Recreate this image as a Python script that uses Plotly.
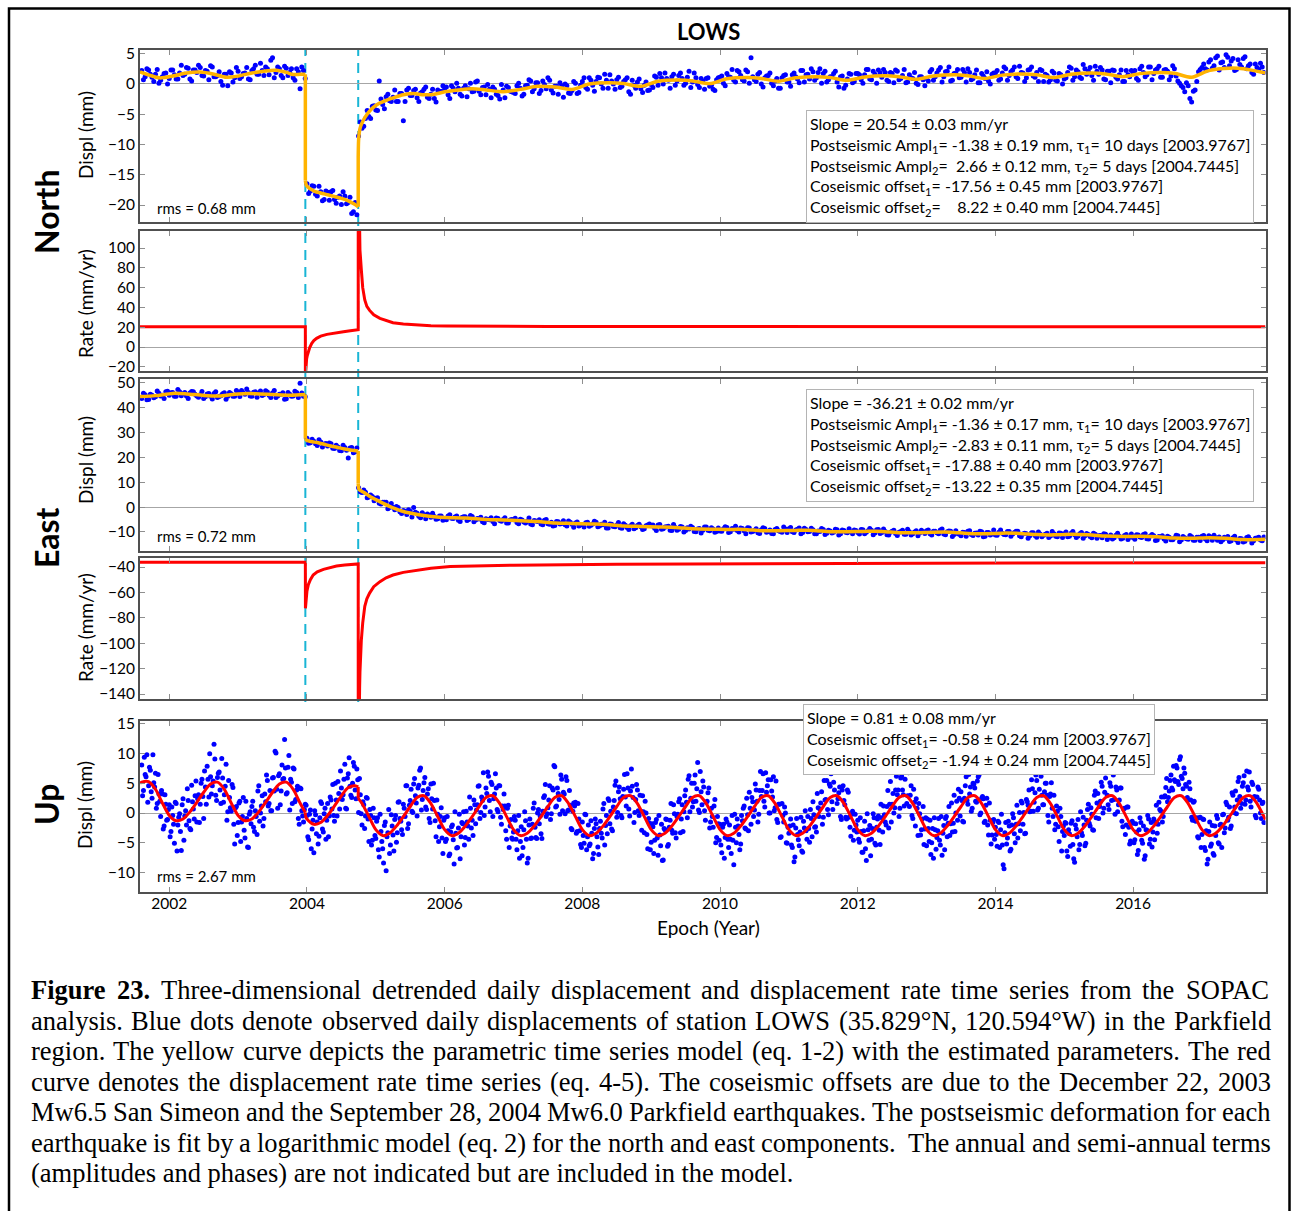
import numpy as np
import plotly.graph_objects as go

W, H = 1291, 1211

EPOCH_RANGE = [2001.575, 2017.923]
QUAKE_EPOCHS = [2003.9767, 2004.7445]
YEAR_TICKS = [2002, 2004, 2006, 2008, 2010, 2012, 2014, 2016]

# ---------------------------------------------------------------------------
# Observed positions (mm). North / east: two interleaved sets every 0.05 yr;
# up: two interleaved sets every 0.025 yr.
# ---------------------------------------------------------------------------
NE_STEP = 0.05
UP_STEP = 0.025
SEG_STARTS = [2001.600, 2004.000, 2004.750]    # before 1st quake, between, after 2nd
SEG_STARTS_2 = [2001.625, 2004.025, 2004.775]
UP_START = 2001.600
UP_START_2 = 2001.6125

north_obs_pre = [
    2.2, 1.2, 2.3, 1.1, 1.6, 0.1, 1.2, 1.8, 0.9, 2.3,
    0.8, 1.8, 1.4, 2.7, 0.8, 2.3, 1.9, 2.7, 1.3, 2.1,
    3.0, 1.2, 1.4, 0.4, 1.6, -0.3, 1.8, 1.0, 2.1, 1.2,
    1.8, 0.8, 2.2, 3.1, 1.6, 2.2, 2.8, 1.5, 4.3, 1.9,
    2.5, 1.0, 2.6, 1.9, 1.0, 2.5, -0.8, 2.2]
north_obs_mid = [-16.5, -17.7, -16.9, -18.5, -17.8, -19.1, -17.9, -17.8, -19.1, -18.7,
                 -19.9, -18.5, -19.6, -21.4, -19.6]
north_obs_post = [
    -8.6, -7.3, -5.7, -5.4, -3.7,
    -4.3, 0.5, -3.4, -2.1, -2.8, -2.2, -2.9, -1.6, -6.1, -1.0, -1.9, -1.1, -2.3, -1.5, -0.9, -2.2, -1.7, -2.4, -1.0, -1.2,
    -0.8, -1.8, -0.3, -1.3, -0.7, -2.0, -0.3, -0.8, -1.3, 0.3, -1.2, -0.6, -1.8, -0.9, -0.5, -1.7, -2.5, -1.0, -0.4, -1.2,
    -1.4, -0.3, -0.7, -1.7, -0.2, 0.5, -0.8, 0.2, -1.1, -0.1, 1.0, -1.0, -0.4, -1.7, -0.3, 0.0, -1.5, -1.1, 0.1, -1.4,
    0.4, -0.6, 1.0, -0.2, 0.4, 1.0, -0.7, 0.6, 1.5, 0.0, 0.7, -0.6, 0.4, 1.0, -1.7, -0.2, 0.3, -0.8, -0.2, -1.1,
    -0.1, 1.3, -0.2, 1.0, 1.8, 0.6, 1.2, -0.2, 1.4, 0.9, 0.1, 2.1, 0.3, 1.0, -0.6, 0.5, 0.9, -0.4, -0.9, 0.7,
    1.1, 0.1, 1.7, 1.1, 0.6, 2.2, 1.4, 0.5, 2.0, 4.3, 0.7, 1.6, 0.0, 1.0, 1.4, 0.1, 0.5, -0.7, 1.0, 1.5,
    0.3, 1.5, 1.2, 0.2, 2.2, 1.5, 0.8, 2.0, 1.0, 2.5, 1.7, 0.3, 1.2, 1.7, 0.3, 1.2, -0.7, 0.8, 1.6, 0.4,
    1.7, 0.7, 1.5, 2.4, 0.7, 1.6, 2.3, 1.1, 1.9, 0.4, 1.7, 2.3, 0.7, 1.4, 0.2, 1.5, 0.9, 0.1, 1.2, 0.7,
    0.9, 2.0, 0.6, 1.8, 2.7, 1.2, 2.1, 0.5, 1.7, 2.4, 1.1, 1.9, 2.5, 0.7, 1.5, 0.2, 1.7, 0.9, 0.5, 1.6,
    1.8, 0.6, 1.8, 2.5, 1.4, 2.3, 1.2, 2.9, 1.8, 1.0, 2.4, 1.3, 1.9, 2.4, 0.4, 1.4, 0.7, 1.8, 0.5, 1.5,
    0.8, 1.9, 2.6, 1.2, 2.0, 0.9, 2.5, 2.1, 1.4, 2.9, 1.6, 2.3, 0.7, 2.1, 2.3, 1.1, 1.5, 0.4, 2.2, 1.2,
    1.8, 0.9, 2.5, 1.9, 1.5, 2.8, 1.7, 2.5, 1.1, 2.3, 2.1, 1.3, 2.5, 0.5, -0.3, -1.3, -0.3, -3.0, -1.0, 2.0,
    2.7, 2.5, 3.6, 2.6, 4.3, 2.3, 3.6, 4.8, 3.0, 4.2, 2.4, 3.2, 4.2, 2.5, 3.3, 1.6, 2.7, 3.4, 1.9]
north_obs2_pre = [
    0.7, 2.5, 1.6, 0.4, 2.4, 0.6, 1.7, 0.0, 2.3, 1.5,
    0.8, 3.1, 1.6, 2.6, 0.5, 2.3, 3.1, 1.4, 2.2, 0.7,
    2.8, 1.2, 2.0, -0.2, 1.6, 2.0, 0.3, 2.7, 0.9, 1.7,
    2.7, 0.7, 2.5, 1.6, 3.4, 1.4, 2.5, 3.9, 1.0, 2.8,
    1.4, 2.9, 1.4, 2.5, 0.6, 2.0, 2.8, 0.9]
north_obs2_mid = [-18.1, -16.8, -18.2, -16.9, -19.3, -17.7, -19.2, -17.6, -19.7, -18.5,
                  -17.8, -19.8, -18.7, -21.1, -21.6]
north_obs2_post = [
    -6.3, -7.0, -4.4, -5.7, -3.6,
    -4.4, -2.5, -4.1, -1.7, -2.9, -1.0, -2.9, -1.6, -2.9, -0.7, -1.9, -0.9, -2.9, -1.3, -0.5, -2.4, -0.9, -3.0, -1.3, -0.3,
    -0.5, -2.4, -0.7, 0.1, -1.7, -0.7, -2.1, 0.1, -1.2, 0.5, -1.8, -0.5, -0.1, -2.3, -0.9, -1.9, -0.1, -2.3, -0.6, -1.3,
    -1.6, 0.1, -2.0, -0.3, 0.7, -1.3, 0.2, -1.6, 0.5, -0.8, 0.6, -1.5, -0.4, 0.2, -2.2, -0.3, -1.6, 0.4, -1.6, -0.2,
    1.0, -0.9, 0.6, -1.2, 1.1, 0.0, 1.6, -0.7, 0.5, -0.9, 1.1, -0.4, 0.7, -1.3, 0.6, -0.7, 0.8, -1.4, 0.3, -1.0,
    -0.6, 1.1, 1.7, 0.0, 0.9, -0.7, 1.6, 0.5, 1.8, -0.2, 1.1, -0.6, 1.8, -0.1, 0.9, -0.9, 1.0, -0.2, -1.1, 1.0,
    1.3, -0.3, 1.2, 2.4, 0.3, 2.0, 0.7, 2.3, 0.1, 1.2, 0.4, 1.9, -0.5, 1.3, 1.8, -0.3, 0.9, -0.7, 1.4, 0.3,
    -0.4, 1.8, 0.8, 2.2, 0.3, 1.6, 2.5, 0.6, 1.9, 0.1, 2.1, 0.7, 1.2, 2.1, -0.5, 1.3, -0.2, 1.7, 0.2, 1.7,
    1.5, 0.1, 2.4, 0.8, 2.1, 0.1, 1.8, 2.4, 0.6, 1.9, 0.2, 2.1, 0.9, 2.4, 0.3, 1.0, 1.9, -0.1, 1.2, -0.3,
    0.5, 2.4, 1.2, 2.3, 0.3, 2.0, 2.8, 0.6, 1.8, 1.0, 2.4, 0.3, 1.9, 0.9, 2.3, 0.2, 1.3, 2.0, 0.0, 1.8,
    2.2, 0.8, 2.8, 0.6, 2.0, 2.8, 0.9, 1.9, 0.4, 2.3, 2.8, 1.1, 0.4, 2.2, 1.6, 0.3, 2.1, 0.6, 1.7, 0.0,
    1.0, 2.8, 0.6, 2.3, 1.1, 3.2, 1.6, 2.7, 0.6, 2.1, 2.7, 0.8, 2.1, 0.2, 2.2, 0.8, 2.3, 0.4, 1.5, 2.2,
    2.2, 0.6, 2.9, 1.2, 2.8, 0.7, 2.3, 2.9, 1.1, 2.4, 0.7, 3.0, 1.3, 0.1, -0.6, 0.2, -2.4, -1.2, 0.4, 2.4,
    3.3, 2.3, 4.0, 3.0, 4.6, 3.5, 2.7, 4.4, 3.8, 2.2, 4.0, 2.8, 4.5, 3.0, 1.9, 3.3, 2.4, 2.8]

east_obs_pre = [
    43.7, 45.3, 43.3, 45.1, 44.4, 45.9, 45.1, 46.5, 45.1, 46.2,
    44.7, 46.5, 45.7, 44.8, 46.0, 46.5, 44.8, 45.3, 43.7, 45.6,
    44.6, 45.8, 44.1, 44.9, 46.1, 44.6, 45.7, 44.6, 46.3, 47.0,
    45.5, 46.2, 44.7, 46.5, 46.0, 45.0, 46.9, 45.1, 46.0, 44.1,
    45.5, 46.1, 43.6, 45.5, 44.8, 46.2, 49.9, 44.7]
east_obs_mid = [27.7, 25.9, 26.5, 24.8, 26.2, 25.4, 24.6, 25.5, 23.6, 24.2,
                22.7, 24.0, 19.8, 24.0, 22.3]
east_obs_post = [
    7.8, 5.9, 6.0, 4.1, 4.3,
    3.6, 1.5, 1.9, 1.9, -0.2, -0.1, 0.2, -1.9, -1.4, -3.0, -1.7, -0.2, -2.5, -4.3, -3.1, -2.8, -4.1, -3.8, -4.7, -3.6,
    -4.7, -3.6, -4.5, -4.0, -5.3, -4.2, -3.9, -5.0, -3.8, -5.2, -4.8, -5.9, -4.7, -5.1, -5.8, -4.4, -5.4, -5.0, -6.4, -5.2,
    -5.1, -6.2, -4.9, -6.0, -5.7, -6.8, -5.4, -5.8, -6.8, -5.3, -6.7, -6.1, -7.4, -5.9, -6.6, -7.1, -5.6, -6.9, -6.4, -7.6,
    -7.1, -6.3, -7.7, -6.8, -6.1, -7.6, -7.1, -8.4, -6.8, -7.8, -7.2, -8.3, -6.7, -8.2, -7.5, -8.7, -7.4, -7.9, -8.7, -7.2,
    -7.5, -8.5, -7.2, -8.9, -8.0, -7.7, -9.4, -8.2, -8.9, -8.0, -9.4, -8.8, -8.2, -9.9, -8.6, -9.3, -8.0, -9.5, -8.8, -9.8,
    -9.6, -8.7, -8.2, -9.9, -8.9, -9.4, -8.4, -9.5, -8.3, -10.0, -9.3, -10.3, -9.1, -8.6, -9.8, -10.6, -9.0, -9.5, -10.1, -8.8,
    -8.7, -9.9, -9.2, -8.4, -10.2, -9.0, -9.8, -9.1, -10.8, -9.8, -9.0, -10.5, -9.6, -10.1, -9.1, -10.8, -9.4, -10.3, -9.9, -9.2,
    -10.2, -9.0, -10.7, -9.5, -9.3, -10.4, -9.0, -10.2, -9.8, -11.3, -9.7, -10.6, -10.1, -9.3, -11.0, -9.9, -10.8, -9.5, -10.4, -9.9,
    -9.5, -10.8, -9.7, -10.3, -9.2, -10.9, -9.9, -9.7, -11.1, -10.6, -11.6, -10.2, -9.7, -11.1, -10.5, -11.3, -9.9, -11.8, -10.2, -10.9,
    -11.3, -10.1, -10.5, -11.2, -9.8, -10.9, -9.7, -11.6, -10.9, -10.7, -11.6, -10.3, -12.2, -10.9, -11.4, -10.5, -11.7, -10.8, -12.0, -10.5,
    -10.7, -12.0, -10.5, -11.2, -11.7, -10.2, -11.6, -11.1, -12.4, -11.0, -11.6, -12.4, -11.0, -12.1, -12.9, -11.4, -11.8, -12.6, -11.1, -12.2,
    -12.3, -11.2, -12.1, -11.1, -12.8, -11.7, -11.6, -13.3, -12.1, -12.9, -11.8, -13.2, -12.5, -11.6, -13.3, -12.4, -13.0, -12.0, -13.4, -12.2,
    -11.8, -12.9, -11.6, -13.4, -12.4, -12.1, -13.3, -12.6, -13.9, -12.4, -13.3, -12.7, -14.1, -12.3, -13.0, -13.6, -12.5, -13.3, -12.1]
east_obs2_pre = [
    45.9, 43.2, 45.5, 44.0, 46.8, 44.8, 43.7, 46.7, 46.1, 44.6,
    47.4, 44.9, 46.2, 43.7, 46.6, 45.5, 44.2, 46.6, 44.4, 45.8,
    43.5, 46.5, 44.5, 45.7, 43.4, 46.2, 44.7, 47.0, 44.5, 46.1,
    47.6, 44.8, 46.3, 44.2, 46.8, 45.4, 46.4, 44.1, 47.0, 44.8,
    45.5, 43.4, 46.2, 44.7, 46.7, 44.1, 46.0, 44.4]
east_obs2_mid = [25.7, 27.3, 25.5, 27.1, 24.2, 25.6, 25.8, 23.7, 24.9, 22.8,
                 24.9, 22.9, 23.8, 21.9, 23.8]
east_obs2_post = [
    6.2, 6.9, 3.8, 4.9, 2.5,
    3.8, 1.2, 1.9, -0.7, 1.4, -1.1, -0.2, -2.6, -1.7, -1.1, -4.0, -2.1, -3.7, -2.3, -4.7, -3.3, -2.5, -4.9, -3.6, -5.3,
    -5.1, -3.1, -4.6, -3.6, -5.8, -3.9, -5.4, -3.4, -5.9, -4.6, -4.1, -6.3, -5.0, -4.3, -6.7, -4.6, -5.7, -4.3, -6.4, -5.0,
    -4.5, -6.7, -5.2, -6.4, -4.4, -7.1, -5.6, -5.1, -7.1, -5.0, -6.9, -7.6, -5.8, -6.8, -5.5, -7.6, -6.1, -8.1, -6.0, -7.0,
    -8.0, -6.1, -7.3, -5.7, -7.9, -6.9, -6.1, -8.4, -6.9, -7.9, -6.2, -8.5, -7.3, -9.0, -6.9, -8.3, -6.9, -9.0, -7.5, -6.8,
    -7.2, -9.4, -7.0, -8.7, -7.9, -9.3, -7.0, -9.3, -7.8, -10.0, -8.3, -7.7, -9.8, -8.8, -10.4, -8.0, -9.3, -8.3, -10.1, -8.4,
    -9.7, -7.9, -10.2, -8.6, -7.7, -10.0, -8.6, -10.7, -8.4, -9.8, -8.7, -10.6, -8.3, -10.1, -9.2, -10.8, -8.6, -9.8, -8.0, -10.2,
    -8.2, -10.2, -8.9, -10.7, -8.5, -9.9, -8.5, -10.7, -9.6, -8.6, -11.1, -9.3, -10.4, -8.9, -11.3, -9.2, -10.1, -8.7, -10.7, -9.4,
    -10.9, -9.1, -10.1, -8.6, -11.2, -9.1, -10.6, -8.8, -11.2, -10.1, -9.3, -11.5, -9.8, -11.0, -8.9, -11.3, -10.0, -11.6, -9.3, -10.6,
    -9.2, -11.3, -9.7, -10.7, -8.8, -11.2, -9.6, -11.9, -9.5, -11.0, -10.1, -11.8, -9.5, -11.5, -10.4, -9.7, -12.0, -10.2, -11.3, -9.2,
    -11.4, -9.2, -11.1, -9.8, -11.8, -10.2, -9.7, -12.0, -10.5, -12.6, -10.3, -11.5, -10.0, -12.0, -11.0, -12.3, -9.8, -11.8, -10.4, -12.3,
    -10.0, -11.8, -9.8, -12.3, -10.7, -12.6, -10.6, -11.9, -10.5, -12.6, -11.5, -10.7, -13.1, -11.3, -12.4, -10.5, -12.9, -11.5, -13.1, -10.9,
    -13.0, -11.3, -12.3, -10.7, -12.9, -11.1, -13.5, -11.9, -11.6, -13.7, -12.2, -13.2, -11.4, -14.0, -11.9, -12.8, -11.5, -13.4, -12.2, -13.5,
    -11.5, -13.6, -12.1, -11.4, -13.4, -14.0, -12.2, -11.9, -13.6, -11.8, -14.3, -12.8, -13.8, -12.0, -14.5, -12.6, -12.2, -13.6]

up_obs = [
    8.1, 3.8, 6.5, 9.8, 4.6, 7.2, 2.5, 5.1, 6.7, 1.6, 3.2, -0.6, 3.2, -2.2, 1.5, -1.1,
    1.4, -3.1, -0.4, -5.1, 1.6, -2.0, -0.1, -6.3, 2.4, -0.5, -2.0, 2.1, -2.6, 4.7, 0.7, 2.9, -1.5, 3.1, 1.5, 5.7,
    -0.9, 4.4, 7.9, 2.7, 6.1, 4.6, 11.6, 3.0, 6.0, 6.9, 1.6, 5.9, 3.1, 8.2, 0.2, 2.6, 0.3, 4.3, -5.2, 1.1,
    -1.6, 2.0, -1.5, 2.6, -4.2, -0.9, -5.8, 0.2, 1.1, -2.4, 0.4, -3.6, 4.6, 0.0, 2.9, -0.9, 1.9, 5.5, 1.6, 0.4,
    5.9, 3.7, 10.1, 0.8, 6.6, 3.7, 5.7, 12.4, 3.2, 7.7, 0.5, 5.2, 7.6, 1.9, 3.9, -0.9, 4.2, 0.4, -1.5, 1.5,
    -0.4, -4.5, 0.5, -2.7, -6.7, -0.3, -1.5, -3.9, 1.9, -2.7, -0.1, -4.4, 1.6, -0.5, 2.2, 4.8, -1.4, 2.2, 5.3, 0.7,
    4.2, 3.1, 8.2, 0.7, 6.6, 4.5, 2.6, 8.5, 3.9, 7.4, 0.1, 3.1, -2.0, 1.4, -0.5, 2.5, -4.8, -0.4, -4.6, -0.8,
    -4.3, -0.8, -7.4, -3.1, -6.0, -2.1, -9.7, -3.3, -6.8, -0.3, -3.7, -1.1, -4.9, 1.8, -0.9, -2.8, 1.5, -0.6, 4.6, -1.8,
    2.1, 0.3, 4.9, 2.9, -0.5, 4.7, 7.6, 2.3, 5.1, 1.0, 3.2, -0.9, 4.9, 0.7, 2.1, -4.0, -0.2, -2.3, 0.9, -6.8,
    -0.8, -4.4, -3.0, -6.9, -2.3, -4.5, 0.2, -5.9, -2.5, -7.7, -1.6, 0.2, -4.1, -1.5, -4.4, 0.8, -1.2, 2.2, -1.8, 1.4,
    4.6, 0.1, 2.1, -0.4, 4.2, 6.9, 2.1, 5.2, -0.6, 3.2, 4.2, 0.2, 4.6, -1.9, 0.6, 1.2, -4.4, 1.3, -2.2, -4.2,
    -3.2, -1.2, -6.2, -0.4, -4.8, -7.2, -2.8, -1.3, -8.4, -2.0, -4.3, -1.9, 1.7, -4.1, 0.0, -1.8, -3.5, 0.3, 2.9, -0.6,
    0.9, 4.6, -0.1, 3.9, 7.8, 1.2, 3.3, -0.2, 5.7, 3.5, -0.1, 5.5, 0.5, 1.3, -2.8, 1.7, 1.8, -3.1, -1.0, -5.3,
    -1.5, -5.1, -0.3, -4.0, -5.5, -1.3, -7.7, -2.6, -1.8, -5.7, -2.6, -3.4, 0.7, -5.4, -0.4, 2.4, -1.8, -2.7, 1.0, 4.7,
    -0.7, 3.6, 2.4, -0.8, 4.0, 2.7, 6.6, 0.7, 3.7, 4.5, -1.6, 2.3, 3.9, -0.4, 0.3, 2.9, -3.3, 0.0, -6.0, -1.7,
    -4.9, -2.3, -4.6, -1.1, -7.1, -3.7, -1.9, -7.9, -2.8, -1.1, -5.3, -1.2, -2.9, 1.4, -3.3, -0.6, 1.9, -3.3, 1.4, 0.2,
    3.9, -0.8, 6.3, 2.5, 1.0, 5.0, 2.0, 8.5, 0.1, 3.6, 5.4, 0.4, 1.8, 3.4, -2.5, 0.8, -2.4, 2.3, -4.1, -1.8,
    -1.9, -6.7, -1.9, -4.1, -1.5, -5.8, -4.4, -0.4, -8.7, -2.4, -1.0, -3.6, -5.2, -1.3, 1.2, -2.7, -0.3, 3.5, -1.9, 1.9,
    0.5, 3.9, -1.5, 3.8, 2.8, 6.6, 1.0, 3.5, 5.6, 0.0, 3.7, 6.1, 0.9, -1.1, 1.5, -4.1, 1.6, -1.5, 0.0, -5.1,
    -3.4, -1.0, -5.8, -8.2, -2.5, -3.6, -5.5, -0.7, -6.6, -2.5, -3.0, -0.6, -4.9, -0.9, 1.9, -2.4, -3.2, 0.9, 0.7, 3.6,
    -0.7, 2.2, 5.5, -0.3, 4.5, 1.9, 5.2, 7.4, 1.6, 3.4, -0.6, 3.9, 2.1, -0.7, 3.9, -0.7, -3.9, 0.3, -2.9, -2.0,
    -1.2, -4.9, -3.1, -6.6, -1.4, -8.0, -2.8, -2.1, -4.4, -0.1, -5.1, -2.4, -0.5, -5.3, -0.8, 1.2, -1.5, 1.1, -2.5, 5.3,
    1.5, 0.0, 3.9, 3.1, -0.6, 5.9, 3.9, 1.2, 7.9, 2.9, 1.1, 4.6, -0.9, 1.8, 2.4, -3.8, -0.1, -2.8, 1.1, -2.7,
    -5.5, -2.6, -1.2, -5.0, -7.6, -2.8, -4.1, -0.9, -5.4, -7.1, -2.1, -0.9, -4.0, 1.1, -1.8, -3.2, 3.0, 0.0, -1.2, 2.5,
    3.6, -1.4, 2.5, 6.1, 1.5, 3.2, 0.3, 5.0, 4.2, 1.8, 6.1, -0.3, 2.5, 2.4, -1.4, 2.5, -3.7, -1.2, -3.7, -1.1,
    -2.4, -5.6, -1.6, -2.8, -5.4, -9.4, -1.6, -4.2, -2.2, -6.1, -0.1, -3.5, -1.9, -4.2, 0.1, 2.0, -1.9, -3.5, 2.3, 1.3,
    0.2, 5.6, 0.3, 3.4, 5.5, 0.8, 7.7, 3.0, 1.4, 5.0, 3.0, -1.5, 3.2, 0.8, 3.0, -1.9, 0.3, -4.8, -0.6, -3.1,
    -3.8, -1.7, -7.3, -3.5, -1.7, -5.3, -8.3, -2.7, -1.1, -5.3, -3.3, -0.7, -5.5, -1.2, 1.5, -2.2, -0.2, -2.9, 3.7, 1.7,
    -0.9, 2.0, 4.5, 0.8, 5.9, 3.0, 0.6, 4.5, 6.9, 2.3, 4.4, 0.2, 2.2, 4.2, -2.3, 0.8, -2.0, 1.0, -5.2, -1.6,
    -1.7, -4.5, -3.2, -6.3, -0.8, -4.6, -2.2, -7.2, -2.9, -1.0, -4.4, -5.7, -1.0, -1.5, -3.4, 1.8, 0.4, -1.5, 2.7, 4.3,
    1.9, 3.7, 6.4, 3.9, 5.6, 8.0, 5.3, 9.0, 6.2, 4.1, 6.7, 4.5, 2.2, 4.1, -0.7, 1.8, -1.3, -0.8, -4.2, -0.7,
    -3.6, -1.1, -6.3, -8.6, -3.1, -5.6, -2.1, -7.1, -3.8, -0.9, -5.2, -1.9, -0.3, -3.3, 1.8, -1.2, 1.0, -2.2, 3.0, 1.0,
    -0.1, 5.3, 2.8, 1.6, 5.1, 1.5, 7.1, 3.9, 2.0, 5.2, 2.5, -0.4, 2.7, 4.0, 0.0, 1.6, -1.6]
up_obs2 = [
    2.9, 9.4, 6.1, 1.8, 7.7, 3.6, 9.8, 4.4, 0.8, 6.5, 2.0, 3.8, -2.7, 3.1, -1.2, 0.6,
    -4.0, 1.0, -1.9, 1.8, -6.4, -0.7, -3.1, 1.4, -4.6, 0.4, 4.1, -1.3, -2.8, 1.9, -1.0, 5.4, 2.4, -1.6, 5.0, 2.8,
    7.1, 1.5, 5.7, 10.0, 3.2, 5.4, 9.1, 2.1, 6.7, 3.9, 9.2, 1.8, 4.5, -1.2, 5.5, 0.9, 4.8, -1.9, 0.9, -3.8,
    1.7, -4.8, -0.6, -2.9, 2.0, -5.7, -0.2, -1.8, 2.0, -3.1, -0.6, 3.7, -1.4, 1.2, -2.2, 3.2, 6.4, 1.2, 3.8, 0.4,
    6.0, 10.4, 4.0, 6.3, 1.4, 8.1, 5.8, 7.6, 3.4, 9.7, 5.7, 1.6, 7.4, 2.3, 4.5, -1.9, 4.1, -0.5, 0.6, 1.3,
    -4.0, -0.2, -6.0, -1.2, 0.4, -3.5, -5.2, -0.8, 1.6, -3.2, 0.8, -1.2, -4.0, 2.7, 0.7, -0.4, 5.0, -0.5, 3.3, 7.1,
    2.3, 5.7, 0.8, 5.9, 9.3, 3.0, 5.0, 7.9, 2.4, 5.6, 5.8, -0.1, 1.9, -2.6, 2.6, -1.0, 0.6, -5.4, 0.8, -3.8,
    -1.4, -6.2, -0.2, -4.8, -8.4, -1.5, -4.0, 0.6, -5.4, -2.2, -6.4, -0.4, -3.3, 1.9, -1.4, -3.6, 0.8, 4.6, -2.6, 1.3,
    4.0, 0.1, 5.8, 1.7, 4.2, 7.2, 0.5, 3.8, 6.0, 0.6, 4.1, -1.6, 2.4, 5.0, -1.3, 2.2, -4.8, -0.6, -4.2, -1.2,
    -4.8, -0.6, -7.2, -3.2, -2.0, -8.6, -3.4, -5.8, -0.2, -4.0, -1.8, -5.4, 0.3, -2.2, 2.7, -2.5, -3.8, 1.4, 0.5, 4.5,
    -0.9, 2.7, 6.8, 1.0, 3.3, 6.2, 0.2, 4.8, 2.4, 6.6, 0.6, 4.6, -0.7, 1.2, 3.2, -3.0, 0.8, -5.8, -1.1, -4.4,
    -0.6, -4.4, -3.0, -7.6, -2.3, -5.8, 0.2, -4.4, -7.6, -1.0, -4.2, 0.8, -2.4, -4.3, 0.6, -0.5, -4.3, 2.6, 4.8, -0.1,
    2.2, -1.1, 4.2, 8.0, 1.0, 4.2, 2.3, 6.4, 0.4, 3.2, 6.1, 0.4, 3.8, -2.6, 0.3, 1.2, -3.4, 1.6, -3.0, -5.8,
    -3.8, -0.2, -6.2, -2.0, -5.2, -3.4, -6.8, -1.0, -4.0, -7.0, -1.4, -4.2, 1.6, -2.1, -3.5, 2.1, 0.3, -3.0, 2.1, 5.4,
    0.1, 4.4, -0.4, 2.8, 6.5, 1.2, 4.2, -0.5, 7.4, 2.6, 0.1, 4.8, 0.4, 3.0, -2.9, 0.2, 2.0, -3.6, -0.9, -6.2,
    -1.8, -6.8, -1.6, -4.2, -0.4, -5.5, -8.0, -2.6, -1.0, -5.6, -2.4, 1.6, -3.4, -0.1, -4.2, -0.2, 2.4, -1.0, -3.1, 2.9,
    1.8, 5.7, 0.2, 5.0, 1.9, 6.4, 4.1, 0.5, 7.0, 1.4, 4.4, -1.2, 2.0, 4.2, -1.5, -0.6, 1.2, -5.0, -0.6, -4.6,
    -5.4, -2.4, -7.6, -1.0, -4.4, -2.0, -6.8, -4.6, -0.2, -5.0, -2.2, -6.2, -0.4, 0.8, -2.5, 2.5, -3.0, 0.8, 2.6, -0.6,
    4.9, 2.0, -0.2, 7.0, 3.8, 2.0, 6.8, 4.6, 0.0, 5.6, 2.7, 0.4, 5.4, -1.6, 1.5, -4.0, -0.4, 1.0, -5.0, -2.4,
    -2.2, -5.4, -2.0, -7.4, -0.9, -4.5, -3.2, -6.4, -1.4, 0.4, -4.4, -2.6, 0.6, -4.0, -0.3, -2.3, 3.3, -0.6, 1.7, -1.9,
    5.5, 2.3, 0.6, 4.9, 6.6, 0.6, 3.9, 7.4, 2.4, 4.4, -1.1, 4.6, 1.4, -1.0, 3.5, -2.4, -0.2, -4.6, -0.2, -3.2,
    -4.4, -0.8, -6.6, -3.0, -6.0, -0.1, -4.6, -7.2, -2.6, -0.8, -5.4, -1.0, -2.9, 1.5, -3.2, -0.3, -2.0, 3.8, 1.5, -1.5,
    3.3, 0.9, 6.2, 3.9, 0.8, 6.2, 3.1, 5.7, 1.6, 6.8, 3.0, -0.4, 4.0, -2.2, 0.8, 1.6, -3.7, -1.0, -5.3, -0.8,
    -1.0, -4.8, -7.0, -2.6, -0.8, -6.1, -3.0, -4.6, -0.6, -3.4, -6.2, -0.6, -1.7, -3.8, 1.7, -1.7, -3.1, 2.0, 4.0, -0.5,
    2.1, -1.5, 4.6, 2.1, 6.5, 4.4, 0.8, 4.9, 2.0, 5.4, 6.4, 0.0, 2.8, -1.6, 1.3, -2.0, 1.7, -5.2, -1.6, -4.4,
    -3.6, -1.4, -5.8, -0.2, -8.7, -3.3, -5.2, -1.4, -6.4, -2.0, -0.8, -5.0, 1.3, -1.8, -3.0, 1.7, 0.1, -3.4, 1.9, 3.9,
    0.3, 4.1, 1.8, 6.4, 0.5, 4.0, 6.2, 1.4, 3.6, 5.0, -0.4, 2.8, 5.1, -0.6, -2.8, 1.2, -2.3, 0.8, -6.4, -2.2,
    -1.6, -6.4, -2.8, -5.6, -1.3, -7.7, -2.0, -4.0, -6.2, 0.2, -3.8, -2.0, -5.1, 0.6, -1.7, 0.9, -2.8, 3.0, -0.8, 3.3,
    1.1, 5.2, 0.0, 3.5, 6.9, 1.4, 5.1, 2.1, 6.4, -0.2, 3.9, 1.4, 4.2, -1.4, 0.7, -3.6, 1.0, -2.4, -4.7, -1.4,
    -5.0, -1.8, -7.0, -2.8, -1.6, -5.1, -7.8, -2.8, -0.4, -5.2, -1.6, -3.2, -4.5, 1.3, -1.9, 0.6, 2.7, -0.6, 2.9, 5.8,
    2.6, 5.5, 4.2, 7.9, 5.3, 7.6, 4.8, 9.5, 5.8, 7.6, 4.8, 2.6, 5.2, 2.2, -1.2, 2.0, -1.4, -4.0, -0.8, -5.8,
    -1.0, -5.8, -3.0, -7.8, -1.5, -5.2, -6.8, -2.2, -0.4, -5.0, -2.0, -5.8, -0.2, -2.5, 1.4, -0.7, -2.6, 3.4, 0.1, 3.7,
    2.2, 6.0, 0.8, 4.5, 6.3, 2.2, 4.4, 6.9, 1.0, 4.8, 2.8, -0.8, 4.4, 2.2, -0.9, 1.8]

# ---------------------------------------------------------------------------
# Parametric model (mm): one piece per interval between the two earthquakes
# ---------------------------------------------------------------------------
north_fit_pre_t = [2001.575, 2001.70, 2001.86, 2002.05, 2002.25, 2002.45, 2002.65, 2002.83, 2003.0,
                   2003.2, 2003.4, 2003.55, 2003.7, 2003.8, 2003.9, 2003.9767]
north_fit_pre_v = [2.0, 1.5, 1.0, 1.3, 1.8, 1.95, 1.6, 1.1, 1.3, 1.8, 2.15, 2.25, 1.9, 1.55, 1.6, 1.6]
north_fit_mid_t = [2003.9767, 2003.99, 2004.02, 2004.06, 2004.12, 2004.2, 2004.3, 2004.4, 2004.5,
                   2004.6, 2004.68, 2004.7445]
north_fit_mid_v = [-15.96, -16.7, -17.1, -17.4, -17.8, -18.0, -18.3, -18.6, -18.9, -19.3, -19.8, -20.3]
north_fit_post_t = [2004.7445, 2004.75, 2004.76, 2004.78, 2004.81, 2004.85, 2004.9, 2004.96, 2005.05,
                    2005.15, 2005.25, 2005.4, 2005.55, 2005.7, 2005.85, 2006.0, 2006.2, 2006.4, 2006.6,
                    2006.85, 2007.1, 2007.35, 2007.6, 2007.85,
                    2008.1, 2008.4, 2008.6, 2008.85, 2009.1, 2009.4, 2009.6, 2009.85,
                    2010.1, 2010.4, 2010.6, 2010.85, 2011.1, 2011.4, 2011.6, 2011.85,
                    2012.1, 2012.4, 2012.6, 2012.85, 2013.1, 2013.4, 2013.6, 2013.85,
                    2014.1, 2014.4, 2014.6, 2014.85, 2015.1, 2015.4, 2015.6, 2015.85,
                    2016.1, 2016.4, 2016.6, 2016.85, 2017.1, 2017.4, 2017.6, 2017.923]
north_fit_post_v = [-12.08, -9.3, -8.0, -7.0, -6.2, -5.4, -4.6, -3.9, -3.2, -2.7, -2.3, -1.8, -1.6, -1.8,
                    -1.7, -1.3, -1.0, -0.8, -1.0, -1.3, -0.9, -0.4, -0.5, -0.9,
                    0.0, 0.2, 0.05, -0.4, 0.45, 0.65, 0.5, 0.05,
                    0.85, 1.05, 0.9, 0.45, 1.0, 1.2, 1.05, 0.6,
                    1.15, 1.35, 1.2, 0.75, 1.3, 1.5, 1.35, 0.9,
                    1.45, 1.65, 1.5, 1.05, 1.6, 1.8, 1.65, 1.2,
                    1.7, 1.9, 1.75, 1.1, 2.2, 2.6, 2.5, 1.8]

east_fit_pre_t = [2001.575, 2001.8, 2002.05, 2002.25, 2002.5, 2002.75, 2003.0, 2003.25, 2003.5,
                  2003.75, 2003.9767]
east_fit_pre_v = [44.5, 44.9, 45.8, 45.6, 45.0, 44.8, 45.6, 45.7, 45.4, 45.1, 45.4]
east_fit_mid_t = [2003.9767, 2003.99, 2004.02, 2004.08, 2004.15, 2004.25, 2004.35, 2004.45, 2004.55,
                  2004.65, 2004.7445]
east_fit_mid_v = [27.52, 27.1, 26.7, 26.3, 26.0, 25.3, 24.6, 24.0, 23.4, 22.9, 22.6]
east_fit_post_t = [2004.7445, 2004.755, 2004.77, 2004.8, 2004.85, 2004.92, 2005.0, 2005.1, 2005.2,
                   2005.3, 2005.4, 2005.55, 2005.7, 2005.85, 2006.0, 2006.3, 2006.6, 2006.85,
                   2007.1, 2007.35, 2007.6, 2007.85, 2008.1, 2008.35, 2008.6, 2008.85,
                   2009.1, 2009.35, 2009.6, 2009.85, 2010.1, 2010.35, 2010.6, 2010.85,
                   2011.1, 2011.35, 2011.6, 2011.85, 2012.1, 2012.35, 2012.6, 2012.85,
                   2013.1, 2013.35, 2013.6, 2013.85, 2014.1, 2014.35, 2014.6, 2014.85,
                   2015.1, 2015.35, 2015.6, 2015.85, 2016.1, 2016.35, 2016.6, 2016.85,
                   2017.1, 2017.35, 2017.6, 2017.923]
east_fit_post_v = [9.38, 7.3, 6.8, 6.3, 5.5, 4.2, 3.0, 1.6, 0.3, -0.8, -1.8, -2.7, -3.4, -3.9, -4.2,
                   -4.4, -5.0, -5.2,
                   -5.5, -5.8, -6.4, -6.6, -6.8, -7.0, -7.6, -7.8,
                   -8.0, -8.2, -8.7, -8.9, -9.0, -9.0, -9.5, -9.5,
                   -9.4, -9.4, -9.9, -9.9, -9.8, -9.8, -10.3, -10.3,
                   -10.1, -10.1, -10.6, -10.7, -10.5, -10.6, -11.1, -11.2,
                   -11.0, -11.2, -11.7, -11.9, -11.8, -12.0, -12.5, -12.6,
                   -12.4, -12.6, -13.1, -13.0]

up_fit_pre_t = [2001.575, 2001.6, 2001.7, 2001.8, 2001.9, 2002.0, 2002.1, 2002.2, 2002.3, 2002.4,
                2002.5, 2002.6, 2002.7, 2002.8, 2002.9, 2003.0, 2003.1, 2003.2, 2003.3, 2003.4,
                2003.5, 2003.6, 2003.7, 2003.8, 2003.9, 2003.9767]
up_fit_pre_v = [5.0, 5.2, 5.3, 4.0, 1.7, -0.4, -1.3, -1.0, 0.2, 1.8,
                3.5, 4.9, 5.2, 4.0, 1.7, -0.4, -1.3, -1.0, 0.2, 1.8,
                3.5, 4.9, 5.2, 4.0, 1.7, 0.1]
up_fit_mid_t = [2003.9767, 2004.0, 2004.1, 2004.2, 2004.3, 2004.4, 2004.5, 2004.6, 2004.7, 2004.7445]
up_fit_mid_v = [-0.48, -1.0, -1.9, -1.6, -0.4, 1.2, 2.9, 4.3, 4.6, 4.4]
up_fit_post_t = [2004.7445, 2004.8, 2004.9] + list(np.round(np.arange(2005.0, 2017.95, 0.1), 1)) + [2017.923]
up_fit_post_v = [2.46, 1.6, -0.6,
                 -2.8, -3.8, -3.4, -2.2, -0.6, 1.1, 2.6, 2.9, 1.6, -0.6,   # 2005
                 -2.8, -3.8, -3.4, -2.2, -0.6, 1.1, 2.6, 2.9, 1.6, -0.6,   # 2006
                 -2.8, -3.8, -3.4, -2.2, -0.6, 1.1, 2.6, 2.9, 1.6, -0.6,   # 2007
                 -2.8, -3.8, -3.4, -2.2, -0.6, 1.1, 2.6, 2.9, 1.6, -0.6,   # 2008
                 -2.8, -3.8, -3.4, -2.2, -0.6, 1.1, 2.6, 2.9, 1.6, -0.6,   # 2009
                 -2.8, -3.8, -3.4, -2.2, -0.6, 1.1, 2.6, 2.9, 1.6, -0.6,   # 2010
                 -2.8, -3.8, -3.4, -2.2, -0.6, 1.1, 2.6, 2.9, 1.6, -0.6,   # 2011
                 -2.8, -3.8, -3.4, -2.2, -0.6, 1.1, 2.6, 2.9, 1.6, -0.6,   # 2012
                 -2.8, -3.8, -3.4, -2.2, -0.6, 1.1, 2.6, 2.9, 1.6, -0.6,   # 2013
                 -2.8, -3.8, -3.4, -2.2, -0.6, 1.1, 2.6, 2.9, 1.6, -0.6,   # 2014
                 -2.8, -3.8, -3.4, -2.2, -0.6, 1.1, 2.6, 2.9, 1.6, -0.6,   # 2015
                 -2.8, -3.8, -3.4, -2.2, -0.6, 1.1, 2.6, 2.9, 1.6, -0.6,   # 2016
                 -2.8, -3.8, -3.4, -2.2, -0.6, 1.1, 2.6, 2.9, 1.6, -0.6,   # 2017
                 -1.1]

# ---------------------------------------------------------------------------
# Displacement rate (mm/yr)
# ---------------------------------------------------------------------------
north_rate_t = [2001.575, 2003.9767, 2003.977, 2003.985, 2003.995, 2004.005, 2004.02, 2004.04, 2004.07,
                2004.1, 2004.14, 2004.2, 2004.29, 2004.4, 2004.53, 2004.63, 2004.7445, 2004.745,
                2004.755, 2004.765, 2004.77, 2004.79, 2004.81, 2004.84, 2004.87, 2004.91, 2004.97,
                2005.06, 2005.15, 2005.25, 2005.4, 2005.59, 2005.8, 2006.03, 2006.5, 2007.5, 2009.0,
                2012.0, 2017.923]
north_rate_v = [20.5, 20.5, -29.8, -17.0, -12.0, -8.5, -5.0, -0.5, 3.7, 6.5, 8.8, 11.0, 12.8, 14.3,
                15.5, 16.5, 17.5, 214.0, 150.0, 110.0, 98.0, 78.0, 60.0, 47.5, 41.0, 37.0, 32.5, 29.0,
                26.5, 24.5, 23.2, 22.2, 21.6, 21.2, 20.9, 20.75, 20.65, 20.6, 20.55]
east_rate_t = [2001.575, 2003.9767, 2003.978, 2003.99, 2004.0, 2004.02, 2004.05, 2004.09, 2004.15,
               2004.24, 2004.33, 2004.43, 2004.55, 2004.7445, 2004.745, 2004.755, 2004.765, 2004.77,
               2004.78, 2004.79, 2004.81, 2004.84, 2004.87, 2004.91, 2004.97, 2005.06, 2005.15,
               2005.25, 2005.4, 2005.59, 2005.8, 2006.08, 2007.0, 2008.5, 2010.0, 2013.0, 2017.923]
east_rate_v = [-36.2, -36.2, -72.5, -63.0, -59.0, -54.0, -50.0, -46.3, -43.8, -41.8, -40.4, -39.2,
               -38.4, -37.6, -242.0, -150.0, -135.0, -123.0, -108.0, -97.5, -84.0, -71.0, -65.0,
               -60.5, -55.5, -51.5, -48.5, -46.3, -44.2, -42.4, -41.0, -39.6, -38.6, -37.9, -37.5,
               -37.0, -36.6]

# ---------------------------------------------------------------------------
# Text
# ---------------------------------------------------------------------------
STATION = "LOWS"
north_params = [
    "Slope = 20.54 ± 0.03 mm/yr",
    "Postseismic Ampl<sub>1</sub>= -1.38 ± 0.19 mm, τ<sub>1</sub>= 10 days [2003.9767]",
    "Postseismic Ampl<sub>2</sub>=  2.66 ± 0.12 mm, τ<sub>2</sub>= 5 days [2004.7445]",
    "Coseismic offset<sub>1</sub>= -17.56 ± 0.45 mm [2003.9767]",
    "Coseismic offset<sub>2</sub>=    8.22 ± 0.40 mm [2004.7445]",
]
east_params = [
    "Slope = -36.21 ± 0.02 mm/yr",
    "Postseismic Ampl<sub>1</sub>= -1.36 ± 0.17 mm, τ<sub>1</sub>= 10 days [2003.9767]",
    "Postseismic Ampl<sub>2</sub>= -2.83 ± 0.11 mm, τ<sub>2</sub>= 5 days [2004.7445]",
    "Coseismic offset<sub>1</sub>= -17.88 ± 0.40 mm [2003.9767]",
    "Coseismic offset<sub>2</sub>= -13.22 ± 0.35 mm [2004.7445]",
]
up_params = [
    "Slope = 0.81 ± 0.08 mm/yr",
    "Coseismic offset<sub>1</sub>= -0.58 ± 0.24 mm [2003.9767]",
    "Coseismic offset<sub>2</sub>= -1.94 ± 0.24 mm [2004.7445]",
]
rms_labels = ["rms = 0.68 mm", "rms = 0.72 mm", "rms = 2.67 mm"]

caption_lines = [
    "Figure 23. Three-dimensional detrended daily displacement and displacement rate time series from the SOPAC",
    "analysis. Blue dots denote observed daily displacements of station LOWS (35.829°N, 120.594°W) in the Parkfield",
    "region. The yellow curve depicts the parametric time series model (eq. 1-2) with the estimated parameters. The red",
    "curve denotes the displacement rate time series (eq. 4-5). The coseismic offsets are due to the December 22, 2003",
    "Mw6.5 San Simeon and the September 28, 2004 Mw6.0 Parkfield earthquakes. The postseismic deformation for each",
    "earthquake is fit by a logarithmic model (eq. 2) for the north and east components.  The annual and semi-annual terms",
    "(amplitudes and phases) are not indicated but are included in the model.",
]

# ---------------------------------------------------------------------------
# Styling / page geometry (pixels)
# ---------------------------------------------------------------------------
SANS = "Lato"
SERIF = "Liberation Serif"
BLUE = "#0000FF"
YELLOW = "#FFB300"
RED = "#FF0000"
CYAN = "#19B5D5"
FRAME = "#505050"
TICK = "#8f8f8f"
ZERO = "#a6a6a6"
TICK_FONT = 15.5

X_LEFT, X_RIGHT = 140, 1265.5
PANELS = [  # top, bottom, y-range, y-ticks
    (50, 222, [-22.8, 5.6], [-20, -15, -10, -5, 0, 5]),
    (231, 371, [-24.2, 117.2], [-20, 0, 20, 40, 60, 80, 100]),
    (379, 551, [-17.7, 51.6], [-10, 0, 10, 20, 30, 40, 50]),
    (558, 699, [-143.9, -32.9], [-140, -120, -100, -80, -60, -40]),
    (721, 892, [-13.3, 15.5], [-10, -5, 0, 5, 10, 15]),
]


def fx(px):
    return px / W


def fy(py):
    return 1 - py / H


def axis_ids(i):
    return ("x" if i == 1 else f"x{i}"), ("y" if i == 1 else f"y{i}")


fig = go.Figure()


def add_obs(i, t, v, size=5):
    xa, ya = axis_ids(i)
    fig.add_trace(go.Scatter(x=t, y=v, mode="markers", xaxis=xa, yaxis=ya,
                             marker=dict(color=BLUE, size=size, line=dict(width=0)),
                             hoverinfo="skip"))


def add_model(i, pieces, color, width):
    xa, ya = axis_ids(i)
    for t, v in pieces:
        fig.add_trace(go.Scatter(x=t, y=v, mode="lines", xaxis=xa, yaxis=ya,
                                 line=dict(color=color, width=width, shape="spline", smoothing=0.8),
                                 hoverinfo="skip"))
    # vertical coseismic steps joining consecutive pieces
    sx, sy = [], []
    for (t0, v0), (t1, v1) in zip(pieces[:-1], pieces[1:]):
        sx += [t0[-1], t1[0], None]
        sy += [v0[-1], v1[0], None]
    fig.add_trace(go.Scatter(x=sx, y=sy, mode="lines", xaxis=xa, yaxis=ya,
                             line=dict(color=color, width=width), hoverinfo="skip"))


def add_rate(i, t, v):
    xa, ya = axis_ids(i)
    fig.add_trace(go.Scatter(x=t, y=v, mode="lines", xaxis=xa, yaxis=ya,
                             line=dict(color=RED, width=3), hoverinfo="skip"))


def epochs(start, n, step):
    return list(np.round(start + step * np.arange(n), 4))


def segmented(starts, segs):
    t, v = [], []
    for s, vals in zip(starts, segs):
        t += epochs(s, len(vals), NE_STEP)
        v += vals
    return t, v


# North displacement
for starts, segs in [(SEG_STARTS, [north_obs_pre, north_obs_mid, north_obs_post]),
                     (SEG_STARTS_2, [north_obs2_pre, north_obs2_mid, north_obs2_post])]:
    add_obs(1, *segmented(starts, segs))
add_model(1, [(north_fit_pre_t, north_fit_pre_v), (north_fit_mid_t, north_fit_mid_v),
              (north_fit_post_t, north_fit_post_v)], YELLOW, 3.5)
# North rate
add_rate(2, north_rate_t, north_rate_v)
# East displacement
for starts, segs in [(SEG_STARTS, [east_obs_pre, east_obs_mid, east_obs_post]),
                     (SEG_STARTS_2, [east_obs2_pre, east_obs2_mid, east_obs2_post])]:
    add_obs(3, *segmented(starts, segs))
add_model(3, [(east_fit_pre_t, east_fit_pre_v), (east_fit_mid_t, east_fit_mid_v),
              (east_fit_post_t, east_fit_post_v)], YELLOW, 3.5)
# East rate
add_rate(4, east_rate_t, east_rate_v)
# Up displacement
add_obs(5, epochs(UP_START, len(up_obs), UP_STEP), up_obs)
add_obs(5, epochs(UP_START_2, len(up_obs2), UP_STEP), up_obs2)
add_model(5, [(up_fit_pre_t, up_fit_pre_v), (up_fit_mid_t, up_fit_mid_v),
              (up_fit_post_t, up_fit_post_v)], RED, 3)

layout = dict(
    template="none",
    width=W, height=H, margin=dict(l=0, r=0, t=0, b=0, pad=0, autoexpand=False),
    paper_bgcolor="white", plot_bgcolor="rgba(0,0,0,0)", showlegend=False,
    font=dict(family=SANS, size=16, color="black"),
)
for i, (top, bot, yr, yt) in enumerate(PANELS, start=1):
    xa, ya = axis_ids(i)
    common = dict(showline=True, mirror="ticks", linecolor=FRAME, linewidth=1.6,
                  ticks="inside", ticklen=5, tickwidth=1, tickcolor=TICK, showgrid=False,
                  automargin=False, tickfont=dict(family=SANS, size=TICK_FONT, color="black"))
    layout["xaxis" if i == 1 else f"xaxis{i}"] = dict(
        domain=[fx(X_LEFT), fx(X_RIGHT)], range=EPOCH_RANGE, anchor=ya,
        tickvals=YEAR_TICKS, showticklabels=(i == 5), ticklabelstandoff=-3,
        zeroline=False, **common)
    layout["yaxis" if i == 1 else f"yaxis{i}"] = dict(
        domain=[fy(bot), fy(top)], range=yr, anchor=xa, tickvals=yt,
        zeroline=True, zerolinecolor=ZERO, zerolinewidth=1.3, **common)
fig.update_layout(**layout)

# earthquake epochs
for q in QUAKE_EPOCHS:
    fig.add_shape(type="line", xref="x", yref="paper", x0=q, x1=q, y0=fy(702), y1=fy(48),
                  line=dict(color=CYAN, width=2, dash="10px,7px"), layer="below")

# page frame
fig.add_shape(type="rect", xref="paper", yref="paper", x0=fx(9), x1=fx(1289.5), y0=-0.01, y1=fy(8.5),
              line=dict(color="black", width=2.5), fillcolor="rgba(0,0,0,0)")

ann = []
ann.append(dict(text=f"<b>{STATION}</b>", x=fx(708), y=fy(32), font=dict(family=SANS, size=22)))
ann.append(dict(text="Epoch (Year)", x=fx(709), y=fy(927), font=dict(family=SANS, size=19)))
for label, yc in [("North", 212), ("East", 538), ("Up", 805)]:
    ann.append(dict(text=f"<b>{label}</b>", x=fx(47), y=fy(yc), textangle=-90,
                    font=dict(family=SANS, size=32)))
for label, yc in [("Displ (mm)", 135), ("Rate (mm/yr)", 304), ("Displ (mm)", 460),
                  ("Rate (mm/yr)", 628), ("Displ (mm)", 805)]:
    ann.append(dict(text=label, x=fx(85), y=fy(yc), textangle=-90, font=dict(family=SANS, size=19)))
for label, yc in zip(rms_labels, [208, 536, 876]):
    ann.append(dict(text=label, x=fx(156), y=fy(yc), xanchor="left", font=dict(family=SANS, size=15)))
for lines, (xl, yt) in [(north_params, (806, 110)), (east_params, (806, 389)), (up_params, (803, 704))]:
    ann.append(dict(text="<br>".join(lines), x=fx(xl), y=fy(yt), xanchor="left", yanchor="top",
                    align="left", bgcolor="white", bordercolor="#b4b4b4", borderwidth=1, borderpad=3,
                    font=dict(family=SANS, size=16)))

# --- justified caption set in Times metrics ---
_UP = "ABCDEFGHIJKLMNOPQRSTUVWXYZ"
_UPW = [722, 667, 667, 722, 611, 556, 722, 722, 333, 389, 722, 611, 889, 722, 722, 556, 722, 667,
        556, 611, 722, 722, 944, 722, 722, 611]
_LO = "abcdefghijklmnopqrstuvwxyz"
_LOW = [444, 500, 444, 500, 444, 333, 500, 500, 278, 278, 500, 278, 778, 500, 500, 500, 500, 333,
        389, 278, 500, 500, 722, 500, 500, 444]
_LOWB = [500, 556, 444, 556, 444, 333, 500, 556, 278, 333, 556, 278, 833, 556, 500, 556, 556, 444,
         389, 333, 556, 500, 722, 500, 500, 444]
REG = dict(zip(_UP, _UPW)) | dict(zip(_LO, _LOW))
BOLD = dict(zip(_UP, _UPW)) | dict(zip(_LO, _LOWB))
for d in (REG, BOLD):
    d.update({c: 500 for c in "0123456789"})
    d.update({" ": 250, ".": 250, ",": 250, "(": 333, ")": 333, "-": 333, "°": 400, ":": 278})
BOLD["F"] = 611

CAP_SIZE = 26.5
CAP_LEFT, CAP_RIGHT = 30, 1270
CAP_Y = [990, 1020.5, 1051, 1081.5, 1112, 1142.5, 1173]


def tw(word, table):
    return sum(table.get(c, 500) for c in word) * CAP_SIZE / 1000.0


for li, line in enumerate(caption_lines):
    yc = CAP_Y[li]
    if li == len(caption_lines) - 1:
        ann.append(dict(text=line, x=fx(CAP_LEFT), y=fy(yc), xanchor="left",
                        font=dict(family=SERIF, size=CAP_SIZE)))
        continue
    words = line.split(" ")
    nbold = 2 if li == 0 else 0
    widths = [tw(w, BOLD if k < nbold else REG) for k, w in enumerate(words)]
    gap = (CAP_RIGHT - CAP_LEFT - sum(widths)) / (len(words) - 1)
    x = CAP_LEFT
    for k, w in enumerate(words):
        if w:
            ann.append(dict(text=(f"<b>{w}</b>" if k < nbold else w), x=fx(x), y=fy(yc),
                            xanchor="left", font=dict(family=SERIF, size=CAP_SIZE)))
        x += widths[k] + gap

for a in ann:
    a.setdefault("xref", "paper")
    a.setdefault("yref", "paper")
    a.setdefault("showarrow", False)
    a.setdefault("xanchor", "center")
    a.setdefault("yanchor", "middle")
    a.setdefault("borderpad", 0)
    a["font"].setdefault("color", "black")
fig.update_layout(annotations=ann)

fig.write_html("out.html")
